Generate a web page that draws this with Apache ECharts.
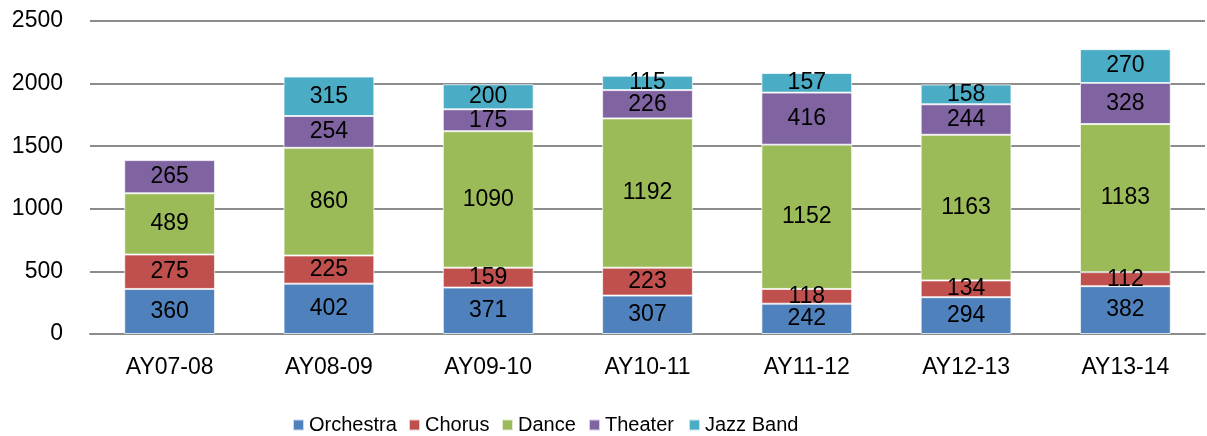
<!DOCTYPE html>
<html>
<head>
<meta charset="utf-8">
<script src="https://cdn.jsdelivr.net/npm/echarts@6/dist/echarts.min.js"></script>
<style>
  html, body { margin: 0; padding: 0; background: #fff; }
  #main { width: 1207px; height: 436px; }
</style>
</head>
<body>
<div id="main"></div>
<script>
// Academic years
const years = ["AY07-08", "AY08-09", "AY09-10", "AY10-11", "AY11-12", "AY12-13", "AY13-14"];

// Enrollment per ensemble, bottom to top
const orchestra = [360, 402, 371, 307, 242, 294, 382];
const chorus = [275, 225, 159, 223, 118, 134, 112];
const dance = [489, 860, 1090, 1192, 1152, 1163, 1183];
const theater = [265, 254, 175, 226, 416, 244, 328];
const jazzBand = [null, 315, 200, 115, 157, 158, 270];

const seriesNames = ["Orchestra", "Chorus", "Dance", "Theater", "Jazz Band"];
const seriesData = [orchestra, chorus, dance, theater, jazzBand];
const colors = ["#4F81BD", "#C0504D", "#9BBB59", "#8064A2", "#4BACC6"];

const FONT = "Liberation Sans";

const chart = echarts.init(document.getElementById("main"), null, { renderer: "canvas" });

const series = seriesNames.map((name, i) => ({
  name: name,
  type: "bar",
  stack: "total",
  barWidth: "57%",
  data: seriesData[i],
  itemStyle: {
    color: colors[i],
    borderColor: "rgba(255,255,255,0.7)",
    borderWidth: 1
  },
  label: {
    show: true,
    position: "inside",
    color: "#000",
    fontFamily: FONT,
    fontSize: 23,
    formatter: (p) => (p.value == null ? "" : p.value)
  },
  emphasis: { disabled: true }
}));

// one legend per item so each sits where the original puts it
const legendLeft = [292, 408, 501, 588, 688];
const legends = seriesNames.map((name, i) => ({
  data: [name],
  left: legendLeft[i],
  top: 415,
  padding: 0,
  itemWidth: 11,
  itemHeight: 11,
  icon: "rect",
  textStyle: { fontFamily: FONT, fontSize: 20, color: "#000" }
}));

chart.setOption({
  animation: false,
  color: colors,
  grid: { left: 90, right: 2, top: 21, bottom: 102, containLabel: false },
  legend: legends,
  xAxis: {
    type: "category",
    data: years,
    axisTick: { show: false },
    axisLine: { show: true, lineStyle: { color: "#8c8c8c", width: 2 } },
    axisLabel: { fontFamily: FONT, fontSize: 23, color: "#000", margin: 22 }
  },
  yAxis: {
    type: "value",
    min: 0,
    max: 2500,
    interval: 500,
    axisLine: { show: false },
    axisTick: { show: false },
    axisLabel: { fontFamily: FONT, fontSize: 23, color: "#000", margin: 27, formatter: (v) => String(v) },
    splitLine: { lineStyle: { color: "#8c8c8c", width: 2 } }
  },
  series: series
});
</script>
</body>
</html>
